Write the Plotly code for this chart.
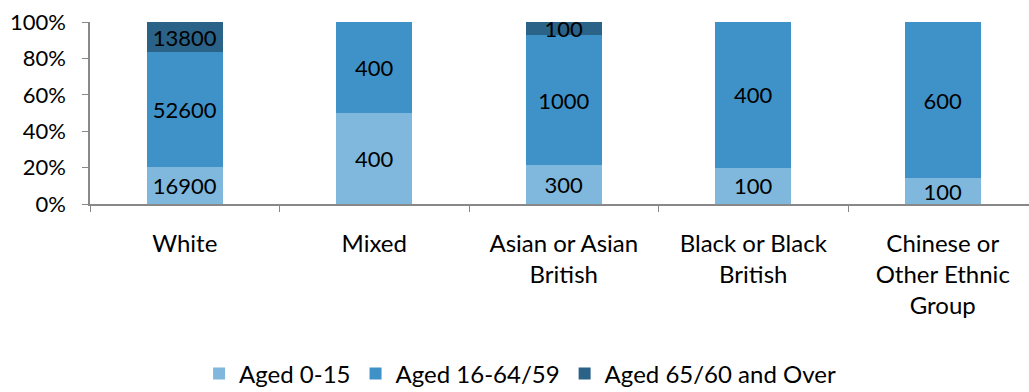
import plotly.graph_objects as go

categories = ["White", "Mixed", "Asian or Asian<br>British", "Black or Black<br>British",
              "Chinese or<br>Other Ethnic<br>Group"]
aged_0_15 = [16900, 400, 300, 100, 100]
aged_16_64 = [52600, 400, 1000, 400, 600]
aged_65_over = [13800, 0, 100, 0, 0]

series = [
    ("Aged 0-15", aged_0_15, "#7fb8dc"),
    ("Aged 16-64/59", aged_16_64, "#3f92c8"),
    ("Aged 65/60 and Over", aged_65_over, "#2a6288"),
]

FONT = "Lato, 'Open Sans', sans-serif"

fig = go.Figure()
for name, vals, color in series:
    fig.add_trace(go.Bar(
        x=categories, y=vals, name=name,
        marker=dict(color=color, line=dict(width=0)),
        text=[str(v) if v else "" for v in vals],
        textposition="inside", insidetextanchor="middle",
        constraintext="none",
        textfont=dict(family=FONT, size=22, color="#000000"),
        hoverinfo="skip",
    ))

fig.update_layout(
    barmode="stack", barnorm="fraction", bargap=0.6,
    width=1029, height=392,
    margin=dict(l=90, r=0, t=22, b=188, autoexpand=False),
    paper_bgcolor="white", plot_bgcolor="white",
    font=dict(family=FONT, size=24, color="#000000"),
    showlegend=True,
    legend=dict(orientation="h", x=0.458, xanchor="center",
                yref="container", y=0.046, yanchor="middle",
                font=dict(family=FONT, size=24, color="#000000"),
                traceorder="normal", itemwidth=30),
)
fig.update_xaxes(
    range=[-0.5, 4.455], showline=True, linecolor="#888888", linewidth=1.5,
    ticks="outside", tickson="boundaries", ticklen=6, tickcolor="#888888",
    ticklabelstandoff=17,
    showgrid=False, tickfont=dict(family=FONT, size=24),
)
fig.update_yaxes(
    range=[0, 1], tickformat=".0%", tickvals=[0, 0.2, 0.4, 0.6, 0.8, 1.0],
    showline=True, linecolor="#888888", linewidth=1.5,
    ticks="outside", ticklen=6, tickcolor="#888888",
    ticklabelstandoff=12,
    showgrid=False, zeroline=False, tickfont=dict(family=FONT, size=22),
)

fig.write_html("out.html")
